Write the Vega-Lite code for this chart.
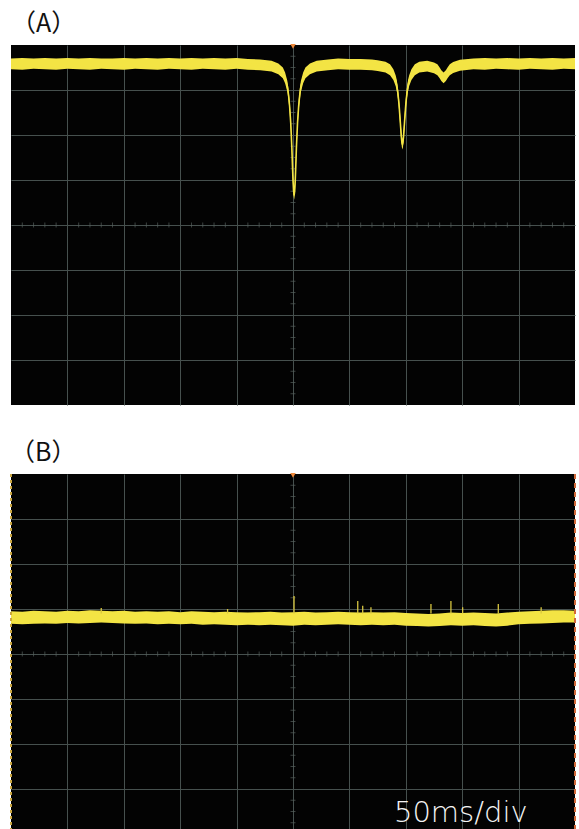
{
  "$schema": "https://vega.github.io/schema/vega-lite/v6.json",
  "padding": {"left": 10, "top": 11, "right": 0, "bottom": 0},
  "spacing": 69,
  "bounds": "flush",
  "background": "white",
  "config": {
    "view": {"fill": "#030303", "stroke": null},
    "axis": {"grid": true, "labels": false, "ticks": false, "domain": false, "gridColor": "#46504e", "gridOpacity": 1, "gridWidth": 1},
    "title": {"anchor": "start", "fontSize": 25, "font": "Noto Sans CJK JP", "fontWeight": "normal", "color": "#111111", "offset": 7, "baseline": "alphabetic"}
  },
  "datasets": {
    "minorH": [
      {"t": -240}, {"t": -230}, {"t": -220}, {"t": -210}, {"t": -190}, {"t": -180}, {"t": -170}, {"t": -160},
      {"t": -140}, {"t": -130}, {"t": -120}, {"t": -110}, {"t": -90}, {"t": -80}, {"t": -70}, {"t": -60},
      {"t": -40}, {"t": -30}, {"t": -20}, {"t": -10}, {"t": 10}, {"t": 20}, {"t": 30}, {"t": 40},
      {"t": 60}, {"t": 70}, {"t": 80}, {"t": 90}, {"t": 110}, {"t": 120}, {"t": 130}, {"t": 140},
      {"t": 160}, {"t": 170}, {"t": 180}, {"t": 190}, {"t": 210}, {"t": 220}, {"t": 230}, {"t": 240}
    ],
    "minorV": [
      {"v": -3.75}, {"v": -3.5}, {"v": -3.25}, {"v": -2.75}, {"v": -2.5}, {"v": -2.25},
      {"v": -1.75}, {"v": -1.5}, {"v": -1.25}, {"v": -0.75}, {"v": -0.5}, {"v": -0.25},
      {"v": 0.25}, {"v": 0.5}, {"v": 0.75}, {"v": 1.25}, {"v": 1.5}, {"v": 1.75},
      {"v": 2.25}, {"v": 2.5}, {"v": 2.75}, {"v": 3.25}, {"v": 3.5}, {"v": 3.75}
    ],
    "traceA": [
      {"t": -250, "c": 3.58, "lo": 3.46, "hi": 3.70},
      {"t": -240, "c": 3.58, "lo": 3.45, "hi": 3.71},
      {"t": -230, "c": 3.58, "lo": 3.47, "hi": 3.70},
      {"t": -220, "c": 3.58, "lo": 3.46, "hi": 3.71},
      {"t": -210, "c": 3.58, "lo": 3.45, "hi": 3.70},
      {"t": -200, "c": 3.58, "lo": 3.47, "hi": 3.71},
      {"t": -190, "c": 3.58, "lo": 3.46, "hi": 3.70},
      {"t": -180, "c": 3.58, "lo": 3.45, "hi": 3.71},
      {"t": -170, "c": 3.58, "lo": 3.47, "hi": 3.70},
      {"t": -160, "c": 3.58, "lo": 3.46, "hi": 3.70},
      {"t": -150, "c": 3.58, "lo": 3.45, "hi": 3.71},
      {"t": -140, "c": 3.58, "lo": 3.47, "hi": 3.70},
      {"t": -130, "c": 3.58, "lo": 3.46, "hi": 3.71},
      {"t": -120, "c": 3.58, "lo": 3.45, "hi": 3.70},
      {"t": -110, "c": 3.58, "lo": 3.47, "hi": 3.71},
      {"t": -100, "c": 3.58, "lo": 3.46, "hi": 3.70},
      {"t": -90, "c": 3.58, "lo": 3.45, "hi": 3.71},
      {"t": -80, "c": 3.58, "lo": 3.47, "hi": 3.70},
      {"t": -70, "c": 3.58, "lo": 3.46, "hi": 3.71},
      {"t": -60, "c": 3.58, "lo": 3.45, "hi": 3.70},
      {"t": -50, "c": 3.58, "lo": 3.47, "hi": 3.71},
      {"t": -40, "c": 3.57, "lo": 3.45, "hi": 3.69},
      {"t": -29, "c": 3.56, "lo": 3.44, "hi": 3.68},
      {"t": -19, "c": 3.53, "lo": 3.41, "hi": 3.65},
      {"t": -13, "c": 3.47, "lo": 3.35, "hi": 3.59},
      {"t": -9, "c": 3.38, "lo": 3.26, "hi": 3.50},
      {"t": -7, "c": 3.27, "lo": 3.15, "hi": 3.39},
      {"t": -5, "c": 3.08, "lo": 2.96, "hi": 3.20},
      {"t": -4, "c": 2.90, "lo": 2.78, "hi": 3.02},
      {"t": -3, "c": 2.64, "lo": 2.52, "hi": 2.76},
      {"t": -2, "c": 2.26, "lo": 2.14, "hi": 2.38},
      {"t": -1, "c": 1.70, "lo": 1.58, "hi": 1.82},
      {"t": -0.5, "c": 1.33, "lo": 1.21, "hi": 1.45},
      {"t": 0, "c": 1.00, "lo": 0.88, "hi": 1.12},
      {"t": 0.5, "c": 0.76, "lo": 0.64, "hi": 0.88},
      {"t": 1, "c": 0.66, "lo": 0.56, "hi": 0.76},
      {"t": 1.5, "c": 0.76, "lo": 0.64, "hi": 0.88},
      {"t": 2, "c": 1.00, "lo": 0.88, "hi": 1.12},
      {"t": 2.5, "c": 1.33, "lo": 1.21, "hi": 1.45},
      {"t": 3, "c": 1.70, "lo": 1.58, "hi": 1.82},
      {"t": 4, "c": 2.26, "lo": 2.14, "hi": 2.38},
      {"t": 5, "c": 2.64, "lo": 2.52, "hi": 2.76},
      {"t": 6, "c": 2.90, "lo": 2.78, "hi": 3.02},
      {"t": 7, "c": 3.08, "lo": 2.96, "hi": 3.20},
      {"t": 9, "c": 3.27, "lo": 3.15, "hi": 3.39},
      {"t": 11, "c": 3.38, "lo": 3.26, "hi": 3.50},
      {"t": 15, "c": 3.47, "lo": 3.35, "hi": 3.59},
      {"t": 21, "c": 3.53, "lo": 3.41, "hi": 3.65},
      {"t": 31, "c": 3.56, "lo": 3.44, "hi": 3.68},
      {"t": 40, "c": 3.57, "lo": 3.46, "hi": 3.70},
      {"t": 50, "c": 3.57, "lo": 3.45, "hi": 3.69},
      {"t": 60, "c": 3.56, "lo": 3.45, "hi": 3.69},
      {"t": 70, "c": 3.55, "lo": 3.44, "hi": 3.68},
      {"t": 75, "c": 3.54, "lo": 3.42, "hi": 3.66},
      {"t": 82, "c": 3.51, "lo": 3.39, "hi": 3.63},
      {"t": 86, "c": 3.45, "lo": 3.33, "hi": 3.57},
      {"t": 89, "c": 3.34, "lo": 3.22, "hi": 3.46},
      {"t": 91, "c": 3.21, "lo": 3.09, "hi": 3.33},
      {"t": 92, "c": 3.10, "lo": 2.98, "hi": 3.22},
      {"t": 93, "c": 2.93, "lo": 2.81, "hi": 3.05},
      {"t": 94, "c": 2.68, "lo": 2.56, "hi": 2.80},
      {"t": 95, "c": 2.33, "lo": 2.21, "hi": 2.45},
      {"t": 95.5, "c": 2.15, "lo": 2.03, "hi": 2.27},
      {"t": 96, "c": 1.97, "lo": 1.85, "hi": 2.09},
      {"t": 96.5, "c": 1.84, "lo": 1.73, "hi": 1.95},
      {"t": 97, "c": 1.79, "lo": 1.68, "hi": 1.90},
      {"t": 97.5, "c": 1.84, "lo": 1.73, "hi": 1.95},
      {"t": 98, "c": 1.97, "lo": 1.85, "hi": 2.09},
      {"t": 98.5, "c": 2.15, "lo": 2.03, "hi": 2.27},
      {"t": 99, "c": 2.33, "lo": 2.21, "hi": 2.45},
      {"t": 100, "c": 2.68, "lo": 2.56, "hi": 2.80},
      {"t": 101, "c": 2.93, "lo": 2.81, "hi": 3.05},
      {"t": 102, "c": 3.10, "lo": 2.98, "hi": 3.22},
      {"t": 103, "c": 3.21, "lo": 3.09, "hi": 3.33},
      {"t": 105, "c": 3.34, "lo": 3.22, "hi": 3.46},
      {"t": 108, "c": 3.45, "lo": 3.33, "hi": 3.57},
      {"t": 112, "c": 3.51, "lo": 3.39, "hi": 3.63},
      {"t": 119, "c": 3.53, "lo": 3.41, "hi": 3.65},
      {"t": 125, "c": 3.49, "lo": 3.37, "hi": 3.61},
      {"t": 128, "c": 3.45, "lo": 3.33, "hi": 3.57},
      {"t": 130, "c": 3.38, "lo": 3.26, "hi": 3.50},
      {"t": 131.5, "c": 3.32, "lo": 3.20, "hi": 3.44},
      {"t": 133.5, "c": 3.27, "lo": 3.15, "hi": 3.39},
      {"t": 135.5, "c": 3.32, "lo": 3.20, "hi": 3.44},
      {"t": 137, "c": 3.38, "lo": 3.26, "hi": 3.50},
      {"t": 139, "c": 3.45, "lo": 3.33, "hi": 3.57},
      {"t": 142, "c": 3.50, "lo": 3.38, "hi": 3.62},
      {"t": 148, "c": 3.55, "lo": 3.43, "hi": 3.67},
      {"t": 160, "c": 3.57, "lo": 3.46, "hi": 3.70},
      {"t": 170, "c": 3.58, "lo": 3.45, "hi": 3.71},
      {"t": 180, "c": 3.58, "lo": 3.47, "hi": 3.70},
      {"t": 190, "c": 3.58, "lo": 3.46, "hi": 3.71},
      {"t": 200, "c": 3.58, "lo": 3.45, "hi": 3.70},
      {"t": 210, "c": 3.58, "lo": 3.47, "hi": 3.71},
      {"t": 220, "c": 3.58, "lo": 3.46, "hi": 3.70},
      {"t": 230, "c": 3.58, "lo": 3.45, "hi": 3.71},
      {"t": 240, "c": 3.58, "lo": 3.47, "hi": 3.70},
      {"t": 250, "c": 3.58, "lo": 3.46, "hi": 3.71}
    ],
    "traceB": [
      {"t": -250, "lo": 0.67, "hi": 0.95}, {"t": -240, "lo": 0.66, "hi": 0.94},
      {"t": -230, "lo": 0.67, "hi": 0.96}, {"t": -220, "lo": 0.68, "hi": 0.95},
      {"t": -210, "lo": 0.67, "hi": 0.94}, {"t": -200, "lo": 0.69, "hi": 0.96},
      {"t": -190, "lo": 0.68, "hi": 0.95}, {"t": -180, "lo": 0.69, "hi": 0.97},
      {"t": -170, "lo": 0.70, "hi": 0.96}, {"t": -160, "lo": 0.69, "hi": 0.95},
      {"t": -150, "lo": 0.68, "hi": 0.96}, {"t": -140, "lo": 0.67, "hi": 0.94},
      {"t": -130, "lo": 0.68, "hi": 0.95}, {"t": -120, "lo": 0.66, "hi": 0.94},
      {"t": -110, "lo": 0.67, "hi": 0.95}, {"t": -100, "lo": 0.66, "hi": 0.93},
      {"t": -90, "lo": 0.67, "hi": 0.95}, {"t": -80, "lo": 0.65, "hi": 0.94},
      {"t": -70, "lo": 0.66, "hi": 0.93}, {"t": -60, "lo": 0.65, "hi": 0.94},
      {"t": -50, "lo": 0.64, "hi": 0.93}, {"t": -40, "lo": 0.65, "hi": 0.92},
      {"t": -30, "lo": 0.64, "hi": 0.93}, {"t": -20, "lo": 0.65, "hi": 0.94},
      {"t": -10, "lo": 0.64, "hi": 0.92}, {"t": 0, "lo": 0.63, "hi": 0.93},
      {"t": 10, "lo": 0.65, "hi": 0.94}, {"t": 20, "lo": 0.64, "hi": 0.92},
      {"t": 30, "lo": 0.65, "hi": 0.93}, {"t": 40, "lo": 0.66, "hi": 0.94},
      {"t": 50, "lo": 0.65, "hi": 0.93}, {"t": 60, "lo": 0.64, "hi": 0.92},
      {"t": 70, "lo": 0.65, "hi": 0.93}, {"t": 80, "lo": 0.64, "hi": 0.92},
      {"t": 90, "lo": 0.65, "hi": 0.93}, {"t": 100, "lo": 0.63, "hi": 0.91},
      {"t": 110, "lo": 0.62, "hi": 0.90}, {"t": 120, "lo": 0.61, "hi": 0.89},
      {"t": 130, "lo": 0.62, "hi": 0.90}, {"t": 140, "lo": 0.64, "hi": 0.92},
      {"t": 150, "lo": 0.63, "hi": 0.91}, {"t": 160, "lo": 0.64, "hi": 0.92},
      {"t": 170, "lo": 0.62, "hi": 0.91}, {"t": 180, "lo": 0.61, "hi": 0.90},
      {"t": 190, "lo": 0.63, "hi": 0.92}, {"t": 200, "lo": 0.66, "hi": 0.94},
      {"t": 210, "lo": 0.67, "hi": 0.95}, {"t": 220, "lo": 0.68, "hi": 0.96},
      {"t": 230, "lo": 0.69, "hi": 0.97}, {"t": 240, "lo": 0.70, "hi": 0.97},
      {"t": 250, "lo": 0.70, "hi": 0.96}
    ],
    "spikesB": [
      {"t": -170, "top": 1.02}, {"t": -58, "top": 1.0}, {"t": 0.9, "top": 1.29},
      {"t": 57.4, "top": 1.18}, {"t": 61.8, "top": 1.07}, {"t": 69.1, "top": 1.04},
      {"t": 122.3, "top": 1.11}, {"t": 140, "top": 1.18}, {"t": 150.4, "top": 1.04},
      {"t": 182, "top": 1.11}, {"t": 220, "top": 1.04}
    ]
  },
  "vconcat": [
    {
      "title": "（A）",
      "width": 564,
      "height": 360,
      "layer": [
        {
          "data": {"name": "minorH"},
          "mark": {"type": "tick", "orient": "vertical", "size": 5, "thickness": 1, "color": "#56605d"},
          "encoding": {
            "x": {"field": "t", "type": "quantitative", "title": null,
                  "scale": {"domain": [-250, 250], "nice": false, "zero": false},
                  "axis": {"values": [-200, -150, -100, -50, 0, 50, 100, 150, 200], "title": null}},
            "y": {"datum": 0, "type": "quantitative", "title": null,
                  "scale": {"domain": [-4, 4], "nice": false, "zero": false},
                  "axis": {"values": [-3, -2, -1, 0, 1, 2, 3], "title": null}}
          }
        },
        {
          "data": {"name": "minorV"},
          "mark": {"type": "tick", "orient": "horizontal", "size": 5, "thickness": 1, "color": "#56605d"},
          "encoding": {
            "x": {"datum": 0, "type": "quantitative", "title": null},
            "y": {"field": "v", "type": "quantitative", "title": null}
          }
        },
        {
          "data": {"name": "traceA"},
          "mark": {"type": "area", "color": "#f3e444", "clip": true},
          "encoding": {
            "x": {"field": "t", "type": "quantitative", "title": null},
            "y": {"field": "lo", "type": "quantitative", "title": null},
            "y2": {"field": "hi"}
          }
        },
        {
          "data": {"name": "traceA"},
          "mark": {"type": "line", "color": "#f3e444", "strokeWidth": 1.6, "clip": true},
          "encoding": {
            "x": {"field": "t", "type": "quantitative", "title": null},
            "y": {"field": "c", "type": "quantitative", "title": null}
          }
        },
        {
          "data": {"values": [{}]},
          "mark": {"type": "point", "shape": "triangle-down", "filled": true, "size": 30, "color": "#f08a3c", "opacity": 1},
          "encoding": {
            "x": {"datum": 0, "type": "quantitative", "title": null},
            "y": {"datum": 3.97, "type": "quantitative", "title": null}
          }
        }
      ]
    },
    {
      "title": "（B）",
      "width": 564,
      "height": 360,
      "layer": [
        {
          "data": {"name": "minorH"},
          "mark": {"type": "tick", "orient": "vertical", "size": 5, "thickness": 1, "color": "#56605d"},
          "encoding": {
            "x": {"field": "t", "type": "quantitative", "title": null,
                  "scale": {"domain": [-250, 250], "nice": false, "zero": false},
                  "axis": {"values": [-200, -150, -100, -50, 0, 50, 100, 150, 200], "title": null}},
            "y": {"datum": 0, "type": "quantitative", "title": null,
                  "scale": {"domain": [-4, 4], "nice": false, "zero": false},
                  "axis": {"values": [-3, -2, -1, 0, 1, 2, 3], "title": null}}
          }
        },
        {
          "data": {"name": "minorV"},
          "mark": {"type": "tick", "orient": "horizontal", "size": 5, "thickness": 1, "color": "#56605d"},
          "encoding": {
            "x": {"datum": 0, "type": "quantitative", "title": null},
            "y": {"field": "v", "type": "quantitative", "title": null}
          }
        },
        {
          "data": {"name": "traceB"},
          "mark": {"type": "area", "color": "#f3e444", "clip": true},
          "encoding": {
            "x": {"field": "t", "type": "quantitative", "title": null},
            "y": {"field": "lo", "type": "quantitative", "title": null},
            "y2": {"field": "hi"}
          }
        },
        {
          "data": {"name": "spikesB"},
          "mark": {"type": "rule", "color": "#d8c640", "strokeWidth": 1.3},
          "encoding": {
            "x": {"field": "t", "type": "quantitative", "title": null},
            "y": {"field": "top", "type": "quantitative", "title": null},
            "y2": {"datum": 0.9}
          }
        },
        {
          "data": {"values": [{}]},
          "mark": {"type": "rule", "color": "#c9a640", "strokeWidth": 2, "strokeDash": [3, 3]},
          "encoding": {"x": {"datum": -250, "type": "quantitative", "title": null}}
        },
        {
          "data": {"values": [{}]},
          "mark": {"type": "rule", "color": "#d0693a", "strokeWidth": 2, "strokeDash": [5, 4]},
          "encoding": {"x": {"datum": 250, "type": "quantitative", "title": null}}
        },
        {
          "data": {"values": [{}]},
          "mark": {"type": "point", "shape": "triangle-down", "filled": true, "size": 30, "color": "#f08a3c", "opacity": 1},
          "encoding": {
            "x": {"datum": 0, "type": "quantitative", "title": null},
            "y": {"datum": 3.97, "type": "quantitative", "title": null}
          }
        },
        {
          "data": {"values": [{}]},
          "mark": {"type": "text", "align": "left", "baseline": "alphabetic", "font": "DejaVu Sans", "fontSize": 29, "fontWeight": 300, "color": "#f4f4f4"},
          "encoding": {
            "x": {"datum": 89.5, "type": "quantitative", "title": null},
            "y": {"datum": -3.73, "type": "quantitative", "title": null},
            "text": {"value": "50ms/div"}
          }
        }
      ]
    }
  ]
}
